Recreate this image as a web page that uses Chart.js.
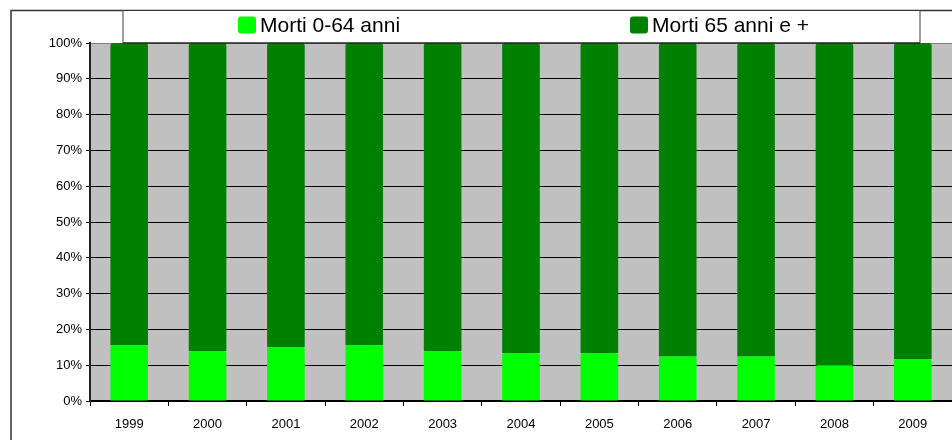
<!DOCTYPE html>
<html>
<head>
<meta charset="utf-8">
<script src="https://cdn.jsdelivr.net/npm/chart.js@4"></script>
<style>
  html, body { margin: 0; padding: 0; background: #ffffff; }
  #wrap { width: 952px; height: 440px; }
</style>
</head>
<body>
<div id="wrap"><canvas id="c" width="952" height="440"></canvas></div>
<script>
const years = ['1999','2000','2001','2002','2003','2004','2005','2006','2007','2008','2009'];
const morti0_64 = [15.6, 14.0, 15.0, 15.6, 14.0, 13.4, 13.4, 12.4, 12.4, 10.0, 11.7];
const morti65plus = [84.4, 86.0, 85.0, 84.4, 86.0, 86.6, 86.6, 87.6, 87.6, 90.0, 88.3];
const seriesLabels = ['Morti 0-64 anni', 'Morti 65 anni e +'];
const seriesColors = ['#00FF00', '#008000'];
const yTicks = [0,10,20,30,40,50,60,70,80,90,100];

const FONT = "'Liberation Sans', Arial, sans-serif";

const framePlugin = {
  id: 'framePlugin',
  beforeDraw(chart) {
    const ctx = chart.ctx, a = chart.chartArea;
    ctx.save();
    ctx.fillStyle = '#ffffff';
    ctx.fillRect(0, 0, chart.width, chart.height);
    ctx.fillStyle = '#C0C0C0';
    ctx.fillRect(a.left, a.top, a.right - a.left, a.bottom - a.top);
    ctx.restore();
  },
  afterDraw(chart) {
    const ctx = chart.ctx;
    ctx.save();
    // outer frame (top and left visible)
    ctx.strokeStyle = '#333333';
    ctx.lineWidth = 1.5;
    ctx.beginPath();
    ctx.moveTo(11, 440);
    ctx.lineTo(11, 10.5);
    ctx.lineTo(952, 10.5);
    ctx.stroke();
    // legend box
    const L = 123, R = 920, T = 11, B = 43;
    ctx.fillStyle = '#ffffff';
    ctx.fillRect(L, T, R - L, B - T);
    ctx.strokeStyle = '#808080';
    ctx.lineWidth = 1.5;
    ctx.beginPath();
    ctx.moveTo(L, T); ctx.lineTo(L, B);
    ctx.moveTo(R, T); ctx.lineTo(R, B);
    ctx.stroke();
    ctx.strokeStyle = '#222222';
    ctx.lineWidth = 1.5;
    ctx.beginPath();
    ctx.moveTo(L, B); ctx.lineTo(R, B);
    ctx.stroke();
    // legend items
    const items = [{x: 238}, {x: 630}];
    ctx.font = '21px ' + FONT;
    ctx.textBaseline = 'middle';
    ctx.textAlign = 'left';
    chart.data.datasets.forEach((ds, i) => {
      const x = items[i].x;
      ctx.fillStyle = ds.backgroundColor;
      const s = 18, y0 = 16.5;
      ctx.beginPath();
      if (ctx.roundRect) { ctx.roundRect(x, y0, s, 17, 3); } else { ctx.rect(x, y0, s, 17); }
      ctx.fill();
      ctx.fillStyle = '#000000';
      ctx.fillText(ds.label, x + s + 4, 26);
    });
    ctx.restore();
  }
};

new Chart(document.getElementById('c'), {
  type: 'bar',
  data: {
    labels: years,
    datasets: [
      { label: seriesLabels[0], data: morti0_64, backgroundColor: seriesColors[0],
        barPercentage: 0.48, categoryPercentage: 1.0, borderRadius: {topLeft: 2, topRight: 2}, borderSkipped: 'bottom' },
      { label: seriesLabels[1], data: morti65plus, backgroundColor: seriesColors[1],
        barPercentage: 0.48, categoryPercentage: 1.0, borderRadius: {topLeft: 3, topRight: 3}, borderSkipped: 'bottom' }
    ]
  },
  options: {
    responsive: false,
    animation: false,
    devicePixelRatio: 1,
    layout: { padding: { top: 43, left: 0, right: -2, bottom: 0 } },
    plugins: { legend: { display: false }, title: { display: false }, tooltip: { enabled: false } },
    scales: {
      x: {
        stacked: true,
        grid: { display: true, offset: true, drawOnChartArea: false, drawTicks: true, tickLength: 5, tickColor: '#000000', tickWidth: 1 },
        border: { display: true, color: '#000000', width: 1.5 },
        ticks: { color: '#000000', font: { family: FONT, size: 13 }, padding: 11, maxRotation: 0, autoSkip: false },
        afterFit(scale) { scale.height = 39; }
      },
      y: {
        stacked: true,
        min: 0, max: 100,
        afterBuildTicks(scale) { scale.ticks = yTicks.map(v => ({ value: v })); },
        grid: {
          color: ctx => (ctx.tick && ctx.tick.value === 100) ? '#808080' : '#000000',
          lineWidth: 1,
          drawTicks: true, tickLength: 4, tickColor: '#000000'
        },
        border: { display: true, color: '#222222', width: 2 },
        ticks: { color: '#000000', font: { family: FONT, size: 13 }, padding: 4, callback: v => v + '%' },
        afterFit(scale) { scale.width = 90; }
      }
    }
  },
  plugins: [framePlugin]
});
</script>
</body>
</html>
